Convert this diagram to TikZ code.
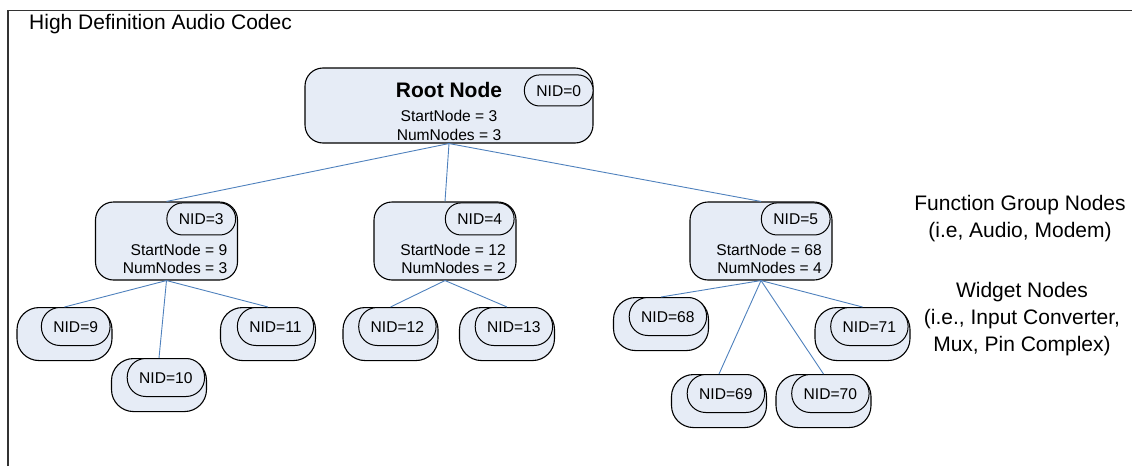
\documentclass[tikz,border=0pt]{standalone}
\usepackage{fontspec}
\setmainfont{Liberation Sans}
\definecolor{nodefill}{RGB}{230,236,246}
\definecolor{linkblue}{RGB}{79,129,189}
\newcommand\fsmall{\fontsize{15.6}{18}\selectfont}
\newcommand\fbig{\fontsize{21}{25}\selectfont}
\tikzset{
  frameline/.style={draw=black!80, line width=1.3pt},
  box/.style={draw=black, line width=1.1pt, fill=nodefill, rounded corners=18pt, inner sep=0pt},
  wbox/.style={draw=black, line width=1.1pt, fill=nodefill, rounded corners=22pt, inner sep=0pt,
    minimum width=95pt, minimum height=53pt},
  pill/.style={draw=black, line width=1pt, fill=nodefill, rounded corners=#1, inner xsep=12pt,
    inner ysep=0pt, text height=11.5pt, text depth=0pt, font=\fsmall},
  lbl/.style={font=\fsmall, inner sep=0pt},
  biglbl/.style={font=\fbig, inner sep=0pt},
  link/.style={draw=linkblue, line width=0.9pt}
}
\newcommand\fgnode[6]{%
  \node[box, minimum width=142pt, minimum height=78pt] (#1) at (#2,241) {};
  \node[pill=15.5pt, minimum height=32pt, anchor=north east] (#1p) at ([xshift=-2pt,yshift=-1pt]#1.north east) {NID=#3};
  \node[lbl, anchor=base east] (#1s) at (#6,255.6) {StartNode = #4};
  \node[lbl, anchor=base east] (#1n) at (#6,273.8) {NumNodes = #5};
}
\newcommand\wnode[4]{%
  \node[wbox, anchor=north] (#1) at (#2,#3) {};
  \node[pill=18.5pt, minimum height=38pt, anchor=north east] (#1p) at ([xshift=-2pt]#1.north east) {NID=#4};
}
\begin{document}
\begin{tikzpicture}[x=1pt,y=-1pt]
\useasboundingbox (0,0) rectangle (1132,466);
\draw[frameline] (8,466) -- (8,10.5) -- (1132,10.5);
\node[biglbl, anchor=base west] (title) at (29,29) {High Definition Audio Codec};

% root node
\node[box, minimum width=288pt, minimum height=75pt] (root) at (449,105.5) {};
\node[pill=15pt, minimum height=31pt, anchor=north east] (rootp) at ([yshift=-7pt]root.north east) {NID=0};
\node[biglbl, font=\fbig\bfseries, anchor=base] (rootname) at (449,97.5) {Root Node};
\node[lbl, anchor=base] (roots) at (449,121.5) {StartNode = 3};
\node[lbl, anchor=base] (rootn) at (449,140) {NumNodes = 3};

% function group nodes
\fgnode{fg3}{166.5}{3}{9}{3}{227.5}
\fgnode{fg4}{445}{4}{12}{2}{506}
\fgnode{fg5}{761}{5}{68}{4}{822}

% widget nodes
\wnode{w9}{64.5}{307}{9}
\wnode{w10}{159}{358}{10}
\wnode{w11}{268}{307}{11}
\wnode{w12}{390.5}{307}{12}
\wnode{w13}{507}{307}{13}
\wnode{w68}{661}{297}{68}
\wnode{w69}{719}{374}{69}
\wnode{w70}{823.5}{374}{70}
\wnode{w71}{862.5}{307}{71}

% connectors
\draw[link] (root.south) -- (fg3.north);
\draw[link] (root.south) -- (fg4.north);
\draw[link] (root.south) -- (fg5.north);
\draw[link] (fg3.south) -- (w9.north);
\draw[link] (fg3.south) -- (w10.north);
\draw[link] (fg3.south) -- (w11.north);
\draw[link] (fg4.south) -- (w12.north);
\draw[link] (fg4.south) -- (w13.north);
\draw[link] (fg5.south) -- (w68.north);
\draw[link] (fg5.south) -- (w69.north);
\draw[link] (fg5.south) -- (w70.north);
\draw[link] (fg5.south) -- (w71.north);

% side labels
\node[biglbl, anchor=base] (fgl1) at (1020,210) {Function Group Nodes};
\node[biglbl, anchor=base] (fgl2) at (1020,237) {(i.e, Audio, Modem)};
\node[biglbl, anchor=base] (wl1) at (1022,297) {Widget Nodes};
\node[biglbl, anchor=base] (wl2) at (1022,324) {(i.e., Input Converter,};
\node[biglbl, anchor=base] (wl3) at (1022,351) {Mux, Pin Complex)};
\end{tikzpicture}
\end{document}
